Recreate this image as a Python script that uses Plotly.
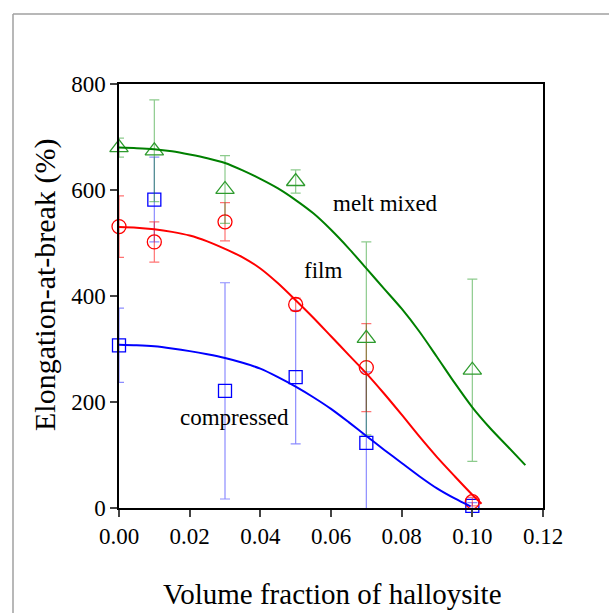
import plotly.graph_objects as go

# measured data points
x_pts = [0.0, 0.01, 0.03, 0.05, 0.07, 0.10]
melt_y = [680, 674, 601, 616, 320, 260]
melt_err = [18, 96, 64, 22, 182, 172]
film_y = [531, 502, 540, 384, 265, 12]
film_err = [58, 38, 36, 12, 83, 8]
comp_y = [307, 582, 221, 247, 123, 4]
comp_err = [70, 80, 204, 126, 134, 6]

# fitted curves
melt_cx = [0.0, 0.005, 0.01, 0.015, 0.02, 0.025, 0.03, 0.035, 0.04, 0.045, 0.05, 0.055,
           0.06, 0.065, 0.07, 0.075, 0.08, 0.085, 0.09, 0.095, 0.10, 0.105, 0.11, 0.115]
melt_cy = [680, 679, 677, 673, 667, 660, 651, 637, 621, 603, 581, 556,
           525, 490, 452, 414, 376, 333, 285, 236, 190, 151, 116, 81]
film_cx = [0.0, 0.005, 0.01, 0.015, 0.02, 0.025, 0.03, 0.035, 0.04, 0.045, 0.05, 0.055,
           0.06, 0.065, 0.07, 0.075, 0.08, 0.085, 0.09, 0.095, 0.10, 0.1026]
film_cy = [530, 529, 526, 521, 514, 503, 489, 473, 452, 424, 392, 359,
           324, 289, 254, 216, 176, 135, 96, 60, 25, 8]
comp_cx = [0.0, 0.005, 0.01, 0.015, 0.02, 0.025, 0.03, 0.035, 0.04, 0.045, 0.05, 0.055,
           0.06, 0.065, 0.07, 0.075, 0.08, 0.085, 0.09, 0.095, 0.0995]
comp_cy = [308, 307, 305, 301, 296, 290, 283, 274, 263, 247, 229, 209,
           187, 162, 136, 110, 85, 60, 37, 18, 3]

x_ticks = [0.0, 0.02, 0.04, 0.06, 0.08, 0.10, 0.12]
y_ticks = [0, 200, 400, 600, 800]

FONT = "Liberation Serif, Times New Roman, serif"
W, H = 609, 613
L, R, T, B = 119, 66, 84, 105
pw, ph = W - L - R, H - T - B

def px(xp):
    return (xp - L) / pw

def py(yp):
    return (H - B - yp) / ph

fig = go.Figure()

series = [
    (comp_y, comp_err, "#0000ff", "rgba(0,0,255,0.45)", "square-open", 13),
    (film_y, film_err, "#ff0000", "rgba(255,0,0,0.55)", "circle-open", 14),
    (melt_y, melt_err, "#2e9b2e", "rgba(0,140,0,0.45)", "triangle-up-open", 16),
]
for ys, es, col, ecol, sym, sz in series:
    fig.add_trace(go.Scatter(
        x=x_pts, y=ys, mode="markers",
        marker=dict(symbol=sym, size=sz, color=col, line=dict(width=1.3, color=col)),
        error_y=dict(type="data", array=es, visible=True, color=ecol, thickness=1.2, width=5),
        cliponaxis=False, showlegend=False))

for cx, cy, col in [(melt_cx, melt_cy, "#008000"), (film_cx, film_cy, "#ff0000"), (comp_cx, comp_cy, "#0000ff")]:
    fig.add_trace(go.Scatter(x=cx, y=cy, mode="lines",
                             line=dict(color=col, width=2, shape="spline", smoothing=0.8),
                             cliponaxis=False, showlegend=False))

fig.update_layout(
    width=W, height=H,
    margin=dict(l=L, r=R, t=T, b=B),
    paper_bgcolor="white", plot_bgcolor="white",
    font=dict(family=FONT, color="black", size=22),
    xaxis=dict(range=[0, 0.12], tickvals=x_ticks, tickformat=".2f", ticks="outside", ticklen=7,
               tickwidth=1.5, showline=True, linecolor="black", linewidth=1.5, mirror=True,
               showgrid=False, zeroline=False, tickfont=dict(size=23, family=FONT)),
    yaxis=dict(range=[0, 800], tickvals=y_ticks, ticks="outside", ticklen=7, tickwidth=1.5,
               showline=True, linecolor="black", linewidth=1.5, mirror=True,
               showgrid=False, zeroline=False, tickfont=dict(size=23, family=FONT)),
    annotations=[
        dict(text="melt mixed", x=0.0753, y=575, xref="x", yref="y", showarrow=False,
             xanchor="center", yanchor="middle", font=dict(size=23, family=FONT)),
        dict(text="film", x=0.0577, y=449, xref="x", yref="y", showarrow=False,
             xanchor="center", yanchor="middle", font=dict(size=23, family=FONT)),
        dict(text="compressed", x=0.0326, y=170, xref="x", yref="y", showarrow=False,
             xanchor="center", yanchor="middle", font=dict(size=23, family=FONT)),
        dict(text="Volume fraction of halloysite", x=px(332), y=py(594), xref="paper", yref="paper",
             showarrow=False, xanchor="center", yanchor="middle", font=dict(size=29, family=FONT)),
        dict(text="Elongation-at-break (%)", x=px(45), y=py(285), xref="paper", yref="paper",
             showarrow=False, textangle=-90, xanchor="center", yanchor="middle",
             font=dict(size=30, family=FONT)),
    ],
    shapes=[
        dict(type="line", xref="paper", yref="paper", x0=px(13), y0=py(14), x1=px(612), y1=py(14),
             line=dict(color="#a0a0a0", width=1.5)),
        dict(type="line", xref="paper", yref="paper", x0=px(13), y0=py(14), x1=px(13), y1=py(616),
             line=dict(color="#a0a0a0", width=1.5)),
    ],
)

fig.write_html("out.html")
